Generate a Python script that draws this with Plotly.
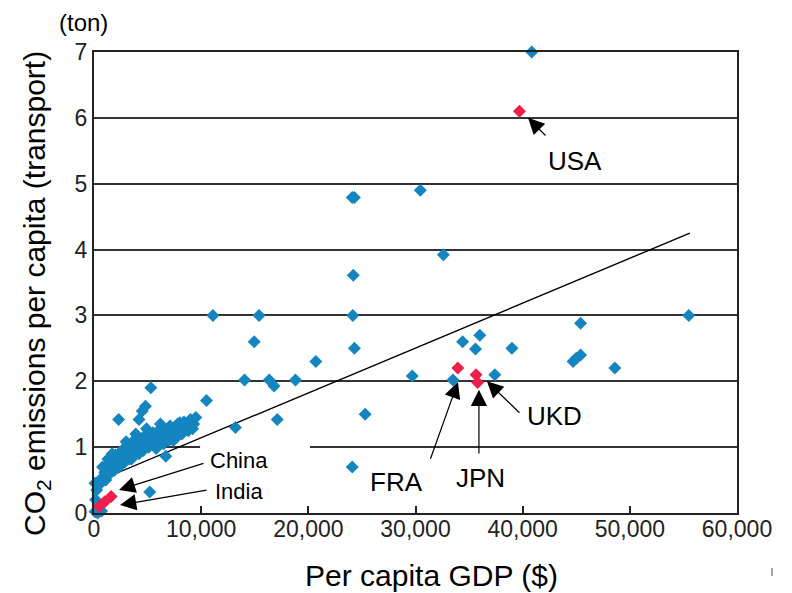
import plotly.graph_objects as go

# ---- data ----
blue_x = [100, 350, 700, 150, 250, 100, 450, 650, 900,
          1000, 1200, 1400, 1600, 1800, 2000, 2200, 2300, 2400, 2600, 2800, 3000, 3200, 3400,
          3500, 3600, 3800, 4000, 4200, 4400, 4600, 4800, 5000, 5200, 5500, 5700, 5800, 6000,
          6300, 6600, 6900, 7200, 7400, 7500, 7800, 8100, 8400, 8700, 9000, 9300, 9500,
          1100, 1500, 1900, 2500, 2900, 3300, 3700, 4600, 5100, 5500, 6100, 6500, 7000,
          7700, 8200, 8800, 9200, 3000, 3900, 4900, 6200, 7100, 8000, 800, 1300, 1700,
          2300, 4200, 4500, 4800, 5300, 10500, 6700, 5200, 13200, 14950, 20700, 14050,
          16350, 16800, 18800, 17100, 11100, 15400, 24150, 24300, 24200, 24100, 24300,
          30450, 32600, 25300, 24100, 29700, 34400, 36000, 35600, 39000, 33500, 37400,
          45400, 44700, 45000, 45400, 48600, 55500, 40850]
blue_y = [0.02, 0.0, 0.03, 0.2, 0.35, 0.45, 0.42, 0.52, 0.5,
          0.62, 0.72, 0.65, 0.8, 0.72, 0.88, 0.8, 0.7, 0.92, 0.85, 0.98, 0.9, 1.02, 0.95,
          0.82, 1.08, 0.98, 1.12, 0.9, 1.05, 1.15, 1.0, 1.2, 1.08, 1.22, 1.1, 0.98, 1.25,
          1.15, 1.28, 1.18, 1.3, 1.1, 1.2, 1.35, 1.25, 1.38, 1.3, 1.42, 1.35, 1.45,
          0.5, 0.6, 0.65, 0.72, 0.78, 0.82, 0.88, 0.95, 1.0, 1.05, 1.08, 1.05, 1.1,
          1.15, 1.2, 1.25, 1.28, 1.08, 1.2, 1.28, 1.35, 1.32, 1.37, 0.7, 0.82, 0.9,
          1.42, 1.42, 1.55, 1.62, 1.9, 1.71, 0.86, 0.32, 1.3, 2.6, 2.3, 2.02,
          2.02, 1.93, 2.02, 1.42, 3.0, 3.0, 3.0, 2.5, 3.61, 4.79, 4.79,
          4.9, 3.92, 1.5, 0.7, 2.08, 2.6, 2.7, 2.49, 2.5, 2.02, 2.1,
          2.88, 2.3, 2.35, 2.4, 2.2, 3.0, 7.0]

red_x = [39700, 33950, 35650, 35800, 500, 1000, 1600]
red_y = [6.1, 2.2, 2.1, 1.98, 0.1, 0.17, 0.25]

trend_x = [0, 55600]
trend_y = [0.46, 4.25]

x_ticks = [0, 10000, 20000, 30000, 40000, 50000, 60000]
x_tick_text = ["0", "10,000", "20,000", "30,000", "40,000", "50,000", "60,000"]
y_ticks = [0, 1, 2, 3, 4, 5, 6, 7]

# country callouts: label, arrow tip, arrow tail, label position
callout_names = ["USA", "FRA", "JPN", "UKD", "China", "India"]
tip_x = [40500, 33960, 35920, 36670, 2330, 2430]
tip_y = [6.0, 1.99, 1.87, 2.0, 0.35, 0.12]
tail_x = [42270, 31350, 35920, 39840, 10360, 10640]
tail_y = [5.71, 0.80, 0.88, 1.5, 0.76, 0.35]
label_x = [44880, 28180, 36110, 43010, 10640, 11100]
label_y = [5.34, 0.47, 0.53, 1.47, 0.79, 0.33]

BLUE = "#1585c0"
RED = "#ef1f4c"
FONT = "Liberation Sans, Arial, sans-serif"

# the page adds an 8px body margin, so the figure is drawn 8px in from the top-left
OFF = 8
PL, PT, PR, PB = 94, 52, 737, 513   # plot area in screen pixels
PW, PH = PR - PL, PB - PT

fig = go.Figure()
fig.add_trace(go.Scatter(x=trend_x, y=trend_y, mode="lines",
                         line=dict(color="black", width=1.4), hoverinfo="skip"))
fig.add_trace(go.Scatter(x=blue_x, y=blue_y, mode="markers", cliponaxis=False,
                         marker=dict(symbol="diamond", size=10, color=BLUE, line=dict(width=0))))
fig.add_trace(go.Scatter(x=red_x, y=red_y, mode="markers", cliponaxis=False,
                         marker=dict(symbol="diamond", size=10, color=RED, line=dict(width=0))))

annotations = []
for i, name in enumerate(callout_names):
    annotations.append(dict(
        x=tip_x[i], y=tip_y[i], xref="x", yref="y",
        ax=tail_x[i], ay=tail_y[i], axref="x", ayref="y",
        text="", showarrow=True, arrowhead=2, arrowsize=2.7, arrowwidth=1.2,
        arrowcolor="black", standoff=0, startstandoff=0))
    small = name in ("China", "India")
    annotations.append(dict(
        x=label_x[i], y=label_y[i], xref="x", yref="y", text=name, showarrow=False,
        xanchor="left" if small else "center", yanchor="middle",
        font=dict(family=FONT, size=22 if small else 26, color="black")))


def px(sx):
    return (sx - PL) / PW


def py(sy):
    return (PB - sy) / PH


annotations += [
    dict(x=px(36), y=py(294), xref="paper", yref="paper",
         text="CO<sub>2</sub> emissions per capita (transport)", textangle=-90,
         showarrow=False, xanchor="center", yanchor="middle",
         font=dict(family=FONT, size=30, color="black")),
    dict(x=px(431), y=py(575), xref="paper", yref="paper",
         text="Per capita GDP ($)", showarrow=False, xanchor="center", yanchor="middle",
         font=dict(family=FONT, size=30, color="black")),
    dict(x=px(83), y=py(22), xref="paper", yref="paper",
         text="(ton)", showarrow=False, xanchor="center", yanchor="middle",
         font=dict(family=FONT, size=24, color="black")),
]

shapes = [
    # gap in the y=1 gridline behind the China label
    dict(type="rect", xref="x", yref="y", x0=9900, x1=20150, y0=0.95, y1=1.05,
         fillcolor="white", line=dict(width=0), layer="between"),
    # small stray mark at lower right
    dict(type="line", xref="paper", yref="paper",
         x0=px(772), x1=px(772), y0=py(568), y1=py(576),
         line=dict(color="#888888", width=1.5)),
]

W, H = 792 - OFF, 593 - OFF
fig.update_layout(
    width=W, height=H,
    margin=dict(l=PL - OFF, r=W - (PR - OFF), t=PT - OFF, b=H - (PB - OFF), autoexpand=False),
    paper_bgcolor="white", plot_bgcolor="white",
    showlegend=False,
    annotations=annotations, shapes=shapes,
    xaxis=dict(range=[0, 60000], tickvals=x_ticks, ticktext=x_tick_text,
               showgrid=False, zeroline=False, automargin=False,
               showline=True, linecolor="#222222", linewidth=2, mirror=True,
               ticks="inside", ticklen=7, tickwidth=1.5, tickcolor="#222222",
               ticklabelstandoff=-6,
               tickfont=dict(family=FONT, size=23, color="#222222")),
    yaxis=dict(range=[0, 7], tickvals=y_ticks, automargin=False,
               showgrid=True, gridcolor="#333333", gridwidth=2, zeroline=False,
               showline=True, linecolor="#222222", linewidth=2, mirror=True,
               ticks="", ticklabelstandoff=0,
               tickfont=dict(family=FONT, size=23, color="#222222")),
)

fig.write_html("out.html")
